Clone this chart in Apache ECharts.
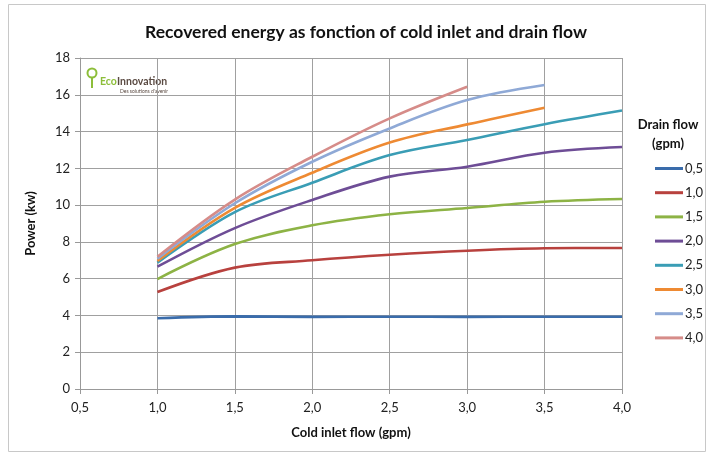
<!DOCTYPE html>
<html><head><meta charset="utf-8">
<script src="https://cdn.jsdelivr.net/npm/echarts@6/dist/echarts.min.js"></script>
<style>html,body{margin:0;padding:0;background:#fff}#c{width:713px;height:456px}</style>
</head><body><div id="c"></div>
<script>
const coldInlet = [1.0, 1.5, 2.0, 2.5, 3.0, 3.5, 4.0];
const drainNames = ['0,5','1,0','1,5','2,0','2,5','3,0','3,5','4,0'];
const d05 = [3.85, 3.95, 3.92, 3.93, 3.92, 3.93, 3.93];
const d10 = [5.27, 6.6, 7.0, 7.3, 7.52, 7.65, 7.67];
const d15 = [5.98, 7.88, 8.9, 9.5, 9.84, 10.18, 10.33];
const d20 = [6.65, 8.75, 10.28, 11.55, 12.09, 12.85, 13.16];
const d25 = [6.87, 9.62, 11.22, 12.72, 13.54, 14.4, 15.14];
const d30 = [6.96, 9.85, 11.76, 13.4, 14.39, 15.3];
const d35 = [7.08, 10.1, 12.36, 14.17, 15.71, 16.53];
const d40 = [7.19, 10.3, 12.63, 14.72, 16.44];
const allSeries = [d05, d10, d15, d20, d25, d30, d35, d40];
const colors = ['#3A6CAB','#B8413E','#8DB345','#6E4D96','#3A9DB5','#EE8A33','#8FA9D6','#D68C89'];
const FONT = 'Lato';
const chart = echarts.init(document.getElementById('c'));
const fmt = v => v.toFixed(1).replace('.', ',');
chart.setOption({
  animation: false,
  textStyle: {fontFamily: FONT},
  title: {text: 'Recovered energy as fonction of cold inlet and drain flow', left: 361, textAlign: 'center', top: 18,
    textStyle: {fontFamily: FONT, fontSize: 17.5, fontWeight: 'bold', color: '#111'}},
  grid: {left: 80, right: 91, top: 58, bottom: 67},
  legend: {orient: 'vertical', left: 650, top: 157, itemWidth: 28, itemHeight: 3, itemGap: 11.2, icon: 'rect',
    data: drainNames, textStyle: {fontFamily: FONT, fontSize: 13, color: '#222', padding: [0,0,0,-3]}},
  xAxis: {type: 'value', min: 0.5, max: 4.0, interval: 0.5,
    name: 'Cold inlet flow (gpm)', nameLocation: 'middle', nameGap: 37,
    nameTextStyle: {fontFamily: FONT, fontSize: 13, fontWeight: 'bold', color: '#111'},
    axisLine: {lineStyle: {color: '#999'}}, axisTick: {show: true, lineStyle: {color: '#999'}},
    axisLabel: {formatter: fmt, color: '#222', fontSize: 13, margin: 12},
    splitLine: {show: true, lineStyle: {color: '#a0a0a0'}}},
  yAxis: {type: 'value', min: 0, max: 18, interval: 2,
    name: 'Power (kw)', nameLocation: 'middle', nameGap: 43, nameRotate: 90,
    nameTextStyle: {fontFamily: FONT, fontSize: 13, fontWeight: 'bold', color: '#111'},
    axisLine: {show: true, lineStyle: {color: '#999'}}, axisTick: {show: true, lineStyle: {color: '#999'}},
    axisLabel: {color: '#222', fontSize: 13, margin: 10},
    splitLine: {show: true, lineStyle: {color: '#a0a0a0'}}},
  series: allSeries.map((arr, i) => ({
    name: drainNames[i], type: 'line', smooth: 0.35, showSymbol: false, symbol: 'none',
    data: arr.map((v, j) => [coldInlet[j], v]),
    lineStyle: {width: 2.6, color: colors[i]}, itemStyle: {color: colors[i]}
  })),
  graphic: [
    {type: 'rect', shape: {x: 8.5, y: 4.5, width: 697, height: 447}, style: {fill: 'none', stroke: '#c8c8c8', lineWidth: 1}, silent: true},
    {type: 'text', x: 668, y: 115, style: {text: 'Drain flow\n(gpm)', align: 'center', fontFamily: FONT, fontSize: 13, fontWeight: 'bold', fill: '#111', lineHeight: 19}},
    {type: 'circle', shape: {cx: 92, cy: 73, r: 4.5}, style: {fill: 'none', stroke: '#8DBE3A', lineWidth: 2}},
    {type: 'line', shape: {x1: 92, y1: 77, x2: 92, y2: 88}, style: {stroke: '#8DBE3A', lineWidth: 2}},
    {type: 'text', x: 100, y: 76, style: {text: 'Eco', fontFamily: FONT, fontSize: 10.5, fontWeight: 'bold', fill: '#8DBE3A'}},
    {type: 'text', x: 117, y: 76, style: {text: 'Innovation', fontFamily: FONT, fontSize: 10.5, fontWeight: 'bold', fill: '#5a4a42'}},
    {type: 'text', x: 120, y: 89, style: {text: "Des solutions d'avenir", fontFamily: FONT, fontSize: 5, fill: '#5a4a42'}}
  ]
});
</script></body></html>
